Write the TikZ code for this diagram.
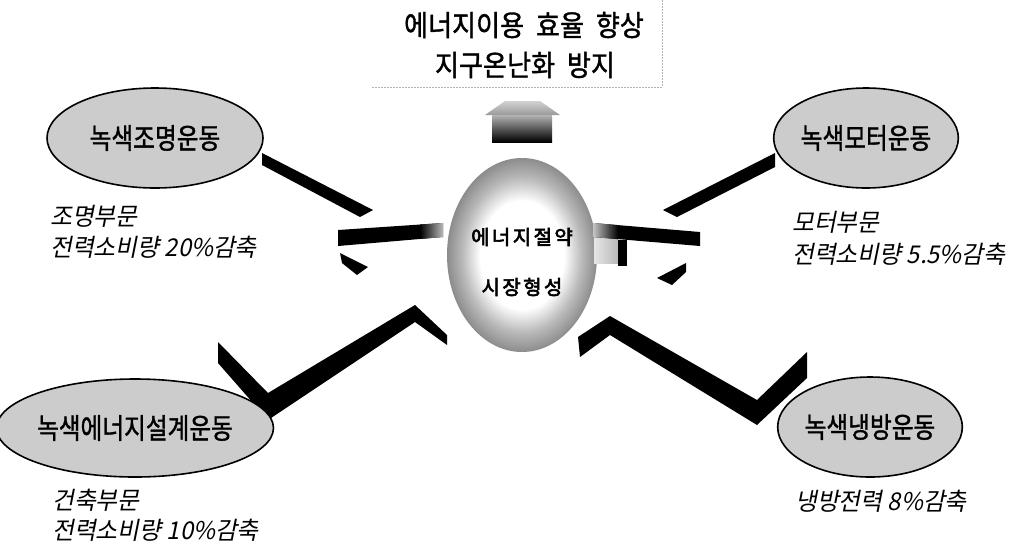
\documentclass[tikz,border=0pt]{standalone}
\usepackage{fontspec}
\usetikzlibrary{shapes.geometric}
\newfontfamily\kr[FakeStretch=0.9,FakeBold=1.2]{Noto Sans CJK KR}
\newfontfamily\krov[FakeStretch=0.83,FakeBold=1.2]{Noto Sans CJK KR}
\newfontfamily\krit[FakeSlant=0.2,FakeStretch=0.97]{Noto Sans CJK KR}
\newfontfamily\krb[FakeBold=3,LetterSpace=12]{Noto Sans CJK KR}
\pgfdeclareradialshading{myball}{\pgfpoint{0bp}{0bp}}{color(0bp)=(white); color(14bp)=(white); color(20bp)=(gray!55); color(25bp)=(gray!90); color(50bp)=(gray!90)}
\begin{document}
\begin{tikzpicture}[x=1pt,y=-1pt,
  oval/.style={ellipse, draw=black, line width=1.6pt, fill=gray!40, inner sep=0pt, font=\krov\fontsize{28.5}{32}\selectfont},
  note/.style={anchor=base west, inner sep=0pt, font=\krit\fontsize{24.5}{28}\selectfont},
  goal/.style={inner sep=0pt, font=\kr\fontsize{29}{33}\selectfont},
  core/.style={inner sep=0pt, font=\krb\fontsize{20}{24}\selectfont},
  bar/.style={fill=black},
  frame/.style={draw=gray!60, line width=0.7pt, dash pattern=on 2pt off 1pt}]
\path[use as bounding box, fill=white] (0,0) rectangle (1035,547);

% top goal box
\draw[frame] (372,87) -- (662,87) -- (662,0);
\node[goal] (goal1) at (524,25) {에너지이용\hspace{6pt} 효율\hspace{6pt} 향상};
\node[goal] (goal2) at (525,65) {지구온난화\hspace{6pt} 방지};

% up arrow
\shade[top color=gray!35, bottom color=gray!80] (485,115) -- (505,101) -- (540,101) -- (560,115) -- cycle;
\shade[top color=gray!60, bottom color=black] (492,115) rectangle (552,142);

% central ball
\node[ellipse, minimum width=150pt, minimum height=194pt, inner sep=0pt, shading=myball] (ball) at (522,255) {};
\node[core] (core1) at (522,237) {에너지절약};
\node[core] (core2) at (522,287) {시장형성};

% left upper bars
\fill[bar] (262,153) -- (373,210) -- (360,217) -- (262,165) -- cycle;
\fill[bar] (338,230) -- (443,223) -- (443,237) -- (338,246) -- cycle;
\shade[left color=black, right color=gray!55] (420,224.5) -- (443,223) -- (443,237) -- (420,239) -- cycle;
\fill[bar] (340,253) -- (368,267) -- (357,275) -- (342,263) -- cycle;

% right upper bars
\shade[left color=gray!20, right color=gray!55] (594,237) rectangle (618,263);
\fill[bar] (618,240) rectangle (627,266);
\fill[bar] (593,223) -- (700,232) -- (700,246) -- (593,237) -- cycle;
\shade[left color=gray!45, right color=black] (593,223) -- (618,225.1) -- (618,239.1) -- (593,237) -- cycle;
\fill[bar] (663,210) -- (775,153) -- (775,167) -- (677,217) -- cycle;
\fill[bar] (657,278) -- (686,263) -- (686,272) -- (672,285) -- cycle;

% lower bars
\fill[bar] (218,342) -- (268,393) -- (415,305) -- (447,335) -- (447,345) -- (415,322) -- (268,420) -- (218,363) -- cycle;
\fill[bar] (578,337) -- (610,316) -- (757,400) -- (807,352) -- (807,378) -- (757,425) -- (610,335) -- (580,357) -- cycle;

% campaign ovals
\node[oval, minimum width=216pt, minimum height=100pt] (light) at (155,138) {녹색조명운동};
\node[oval, minimum width=182pt, minimum height=100pt] (motor) at (866,138) {녹색모터운동};
\node[oval, minimum width=256pt, minimum height=98pt] (design) at (135,428) {녹색에너지설계운동};
\node[oval, minimum width=184pt, minimum height=100pt] (cool) at (870,427) {녹색냉방운동};

% notes
\node[note] (n1a) at (50,225) {조명부문};
\node[note] (n1b) at (50,256) {전력소비량 20\%감축};
\node[note] (n2a) at (792,231) {모터부문};
\node[note] (n2b) at (792,263) {전력소비량 5.5\%감축};
\node[note] (n3a) at (52,509) {건축부문};
\node[note] (n3b) at (52,539) {전력소비량 10\%감축};
\node[note] (n4a) at (795,510) {냉방전력 8\%감축};
\end{tikzpicture}
\end{document}
